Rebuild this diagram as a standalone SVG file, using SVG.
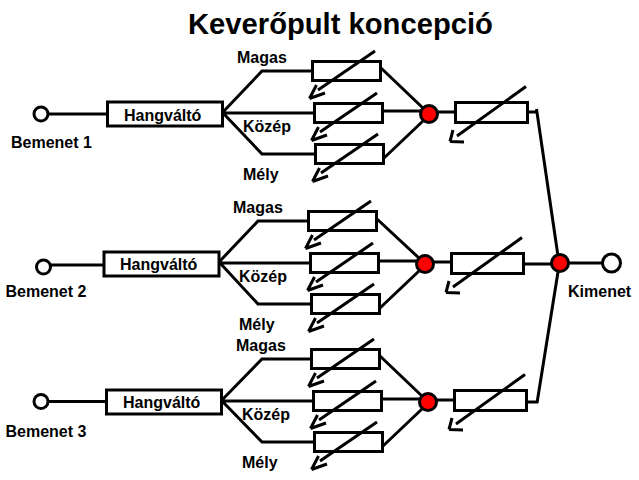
<svg xmlns="http://www.w3.org/2000/svg" width="639" height="480" viewBox="0 0 639 480">
<style>
text{font-family:"Liberation Sans",Arial,sans-serif;font-weight:bold;font-size:16px;fill:#000}
.t{font-size:29.2px}
.box{fill:#fff;stroke:#000;stroke-width:3}
.term{fill:#fff;stroke:#000;stroke-width:3}
.sum{fill:#f00;stroke:#000;stroke-width:3}
.w{fill:none;stroke:#000;stroke-width:3}
.a{fill:none;stroke:#000;stroke-width:3}
</style>
<defs>
<g id="pot"><rect class="box" x="1.5" y="1.5" width="68" height="19"/><path class="a" d="M64 -9L7 30M-1.5 38.5L5.5 25M-1.5 38.5L14 33"/></g>
<g id="potOut"><rect class="box" x="1.5" y="1.5" width="72" height="20"/><path class="a" d="M72 -14.5L3 35M-4 40.5L-1 29M-4 40.5L10 41"/></g>
</defs>
<rect width="639" height="480" fill="#fff"/>
<g id="connectors">
<path class="w" d="M48 114H108M223 112L262 71H312M223 113H314M223 113L262 154H315M381 68L424 109M383 111H422M384 158L423 121M437 112H455M527 112H537M536.500 109L558 256"/>
<path class="w" d="M50 265H105M220 261L258 221H308M220 263H310M220 263L258 304H311M377 219L420 259M379 261H418M380 308L419 271M433 262H451M524 264H552M568 263H602"/>
<path class="w" d="M48 401.500H107M222 400L262 359H311M222 401H313M222 401L262 442H314M380 356L423 397M382 399H421M383 446L422 409M436 400H454M527 402H538M537 403L558 272"/>
</g>
<g id="title"><text class="t" x="188" y="34">Keverőpult koncepció</text></g>
<g id="in1"><circle class="term" cx="41" cy="114" r="7"/><text x="11" y="147.500">Bemenet 1</text></g>
<g id="xo1"><rect class="box" x="107.500" y="102" width="115" height="24"/><text x="124" y="121">Hangváltó</text></g>
<g id="ch1"><text x="237" y="63">Magas</text><text x="243" y="132">Közép</text><text x="243" y="180">Mély</text>
<use href="#pot" x="311" y="60"/><use href="#pot" x="313" y="102"/><use href="#pot" x="314" y="143"/></g>
<g id="sum1"><circle class="sum" cx="429" cy="114" r="8.500"/></g>
<g id="out1"><use href="#potOut" x="454" y="101"/></g>
<g id="in2"><circle class="term" cx="43.500" cy="267" r="7"/><text x="5.500" y="297">Bemenet 2</text></g>
<g id="xo2"><rect class="box" x="104" y="252" width="115" height="24"/><text x="120" y="270">Hangváltó</text></g>
<g id="ch2"><text x="233" y="213">Magas</text><text x="239" y="282">Közép</text><text x="239" y="330">Mély</text>
<use href="#pot" x="307" y="210"/><use href="#pot" x="309" y="252"/><use href="#pot" x="310" y="293"/></g>
<g id="sum2"><circle class="sum" cx="425" cy="264" r="8.500"/></g>
<g id="out2"><use href="#potOut" x="450" y="252"/></g>
<g id="in3"><circle class="term" cx="41" cy="401.500" r="7"/><text x="5.500" y="437">Bemenet 3</text></g>
<g id="xo3"><rect class="box" x="106.500" y="390" width="115" height="24"/><text x="123" y="408">Hangváltó</text></g>
<g id="ch3"><text x="236" y="351">Magas</text><text x="242" y="420">Közép</text><text x="242" y="468">Mély</text>
<use href="#pot" x="310" y="348"/><use href="#pot" x="312" y="390"/><use href="#pot" x="313" y="431"/></g>
<g id="sum3"><circle class="sum" cx="428" cy="402" r="8.500"/></g>
<g id="out3"><use href="#potOut" x="453" y="389"/></g>
<g id="mix"><circle class="sum" cx="560" cy="263" r="8.500"/></g>
<g id="kimenet"><circle class="term" cx="611.500" cy="263" r="9"/><text x="568" y="297">Kimenet</text></g>
</svg>
